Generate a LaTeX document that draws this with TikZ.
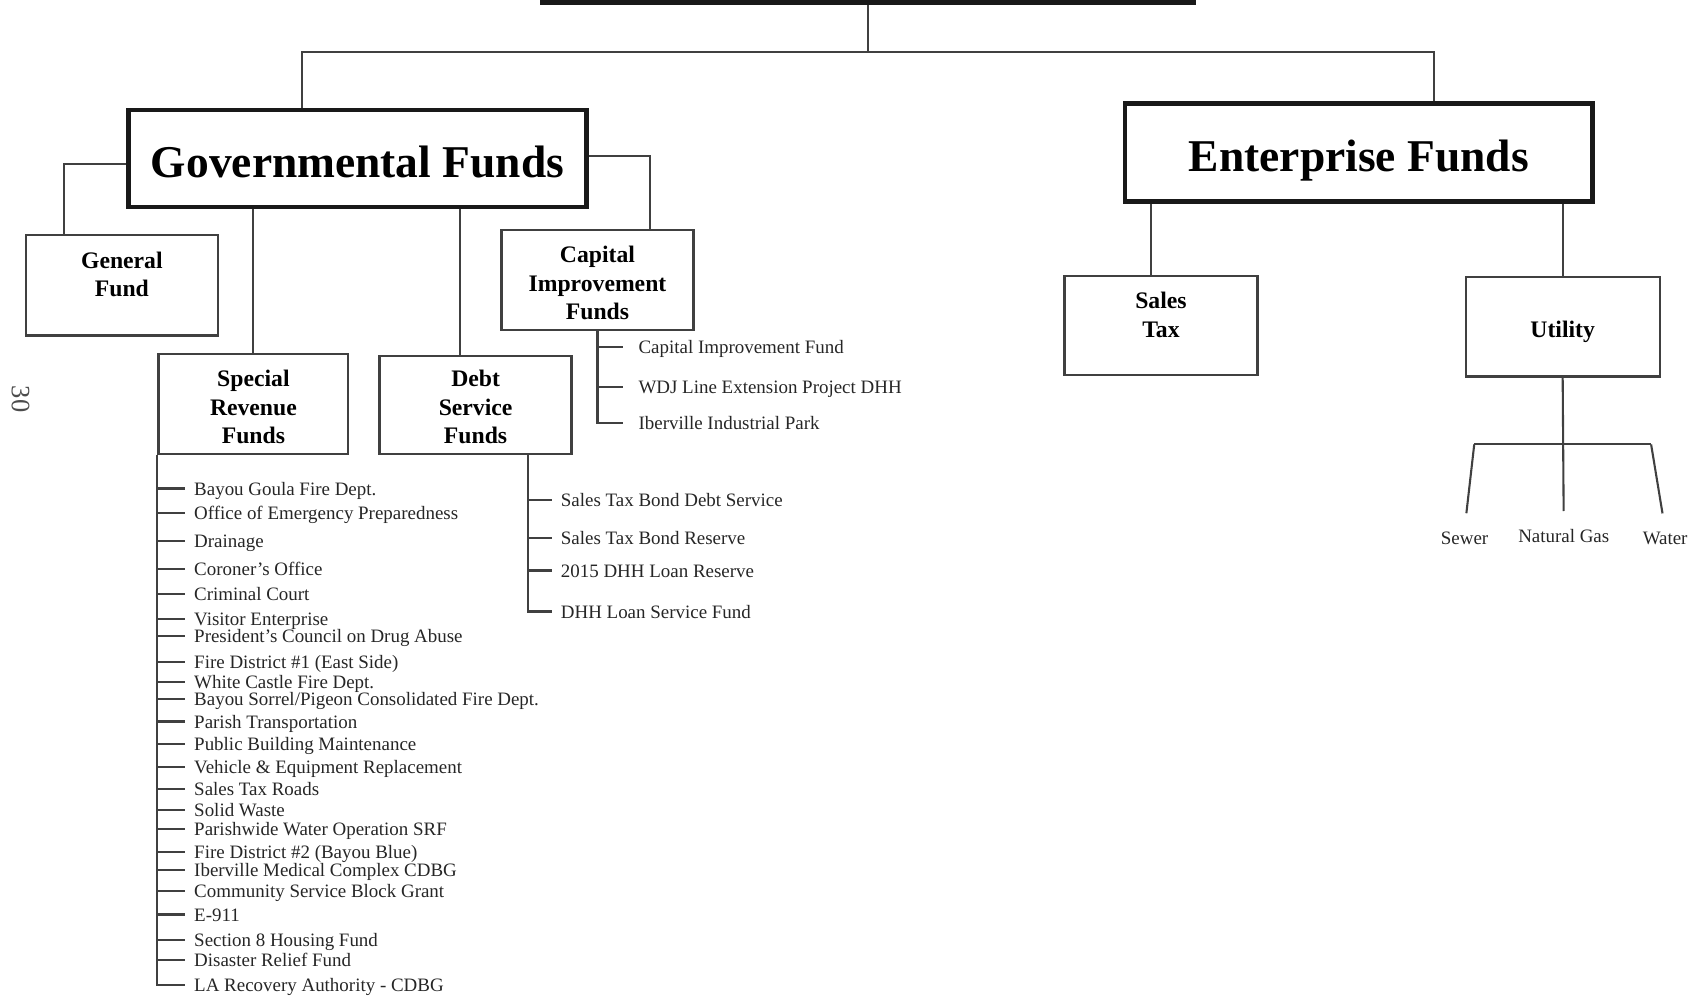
\documentclass[tikz,border=0pt]{standalone}
\usepackage{fontspec}
\setmainfont{Liberation Serif}
\usetikzlibrary{calc}

\tikzset{
  fundbig/.style={draw=black!90, line width=2.5pt, inner sep=0pt, text height=0.71cm, text depth=0pt,
    font=\fontsize{24}{28}\selectfont\bfseries},
  fundbox/.style={draw=black!75, line width=1.2pt, inner sep=0pt, align=center,
    font=\fontsize{12.5}{15}\selectfont\bfseries},
  tri/.style={text height=1.48cm, text depth=0pt},
  item/.style={anchor=west, inner sep=1pt, text=black!85, text height=6.9pt, text depth=0pt,
    font=\fontsize{10}{11}\selectfont},
  link/.style={draw=black!75, line width=1.1pt},
  leaf/.style={link, shorten >=0.12cm},
  leg/.style={link, shorten >=0.3cm},
}

\begin{document}
\begin{tikzpicture}[x=0.02cm, y=-0.02cm]
    \useasboundingbox (0,0) rectangle (1568,925);
    \clip (0,0) rectangle (1568,925);

    % fund boxes
    \node[fundbig, minimum width=12.08cm, minimum height=1.24cm] (root) at (805,-29) {};
    \node[fundbig, minimum width=8.5cm, minimum height=1.8cm, text height=0.70cm] (GF) at (331.5,147) {Governmental Funds};
    \node[fundbig, minimum width=8.68cm, minimum height=1.82cm] (EF) at (1260,141.5) {Enterprise Funds};
    \node[fundbox, minimum width=3.56cm, minimum height=1.86cm, text depth=0.4cm] (gen) at (113,264.5) {General\\Fund};
    \node[fundbox, tri, minimum width=3.56cm, minimum height=1.86cm] (cap) at (554,259.5) {Capital\\Improvement\\Funds};
    \node[fundbox, tri, minimum width=3.52cm, minimum height=1.86cm] (sp) at (235,374.5) {Special\\Revenue\\Funds};
    \node[fundbox, tri, minimum width=3.56cm, minimum height=1.82cm, text height=1.44cm] (debt) at (441,375.5) {Debt\\Service\\Funds};
    \node[fundbox, minimum width=3.58cm, minimum height=1.84cm, text depth=0.4cm] (st) at (1076.5,302) {Sales\\Tax};
    \node[fundbox, minimum width=3.6cm, minimum height=1.84cm, text height=0.4cm, text depth=0pt] (ut) at (1449,303) {Utility};

    \node[rotate=-90, text=black!70, font=\fontsize{14}{16}\selectfont] (page) at (19,370) {30};

    % top level
    \coordinate (busL) at (280,48);
    \coordinate (busR) at (1330,48);
    \draw[link] (root.south) -- (root.south |- busL);
    \draw[link] (GF.north -| busL) -- (busL) -- (busR) -- (EF.north -| busR);

    % governmental branches
    \coordinate (dtop) at ($(debt.north west)!0.42!(debt.north east)$);
    \draw[link] ([yshift=-0.1cm]GF.west) -| ($(gen.north west)!0.2!(gen.north east)$);
    \draw[link] ([yshift=0.04cm]GF.east) -| ($(cap.north west)!0.77!(cap.north east)$);
    \draw[link] (sp.north) -- (sp.north |- GF.south);
    \draw[link] (dtop) -- (dtop |- GF.south);

    % enterprise branches
    \draw[link] ($(st.north west)!0.45!(st.north east)$) coordinate (stop) -- (stop |- EF.south);
    \draw[link] (ut.north) -- (ut.north |- EF.south);

    % capital improvement list
    \foreach \y/\t [count=\i] in {322/Capital Improvement Fund, 359/WDJ Line Extension Project DHH, 392/Iberville Industrial Park}
        \node[item] (ci\i) at (590,\y) {\t};
    \draw[leaf, shorten >=0.24cm] (cap.south) |- (ci3.west);
    \foreach \i in {1,2}
        \draw[leaf, shorten >=0.24cm] (ci\i.west -| cap.south) -- (ci\i.west);

    % debt service list
    \foreach \y/\t [count=\i] in {464/Sales Tax Bond Debt Service, 499/Sales Tax Bond Reserve, 529/2015 DHH Loan Reserve, 567/DHH Loan Service Fund}
        \node[item] (ds\i) at (518,\y) {\t};
    \coordinate (dbot) at ($(debt.south west)!0.77!(debt.south east)$);
    \draw[leaf] (dbot) |- (ds4.west);
    \foreach \i in {1,2,3}
        \draw[leaf] (ds\i.west -| dbot) -- (ds\i.west);

    % special revenue list
    \foreach \y/\t [count=\i] in {453/Bayou Goula Fire Dept., 476/Office of Emergency Preparedness,
        502/Drainage, 528/Coroner's Office, 551/Criminal Court, 574/Visitor Enterprise,
        590/President's Council on Drug Abuse, 614/Fire District \#1 (East Side),
        632/White Castle Fire Dept., 648/{Bayou Sorrel/Pigeon Consolidated Fire Dept.},
        669/Parish Transportation, 690/Public Building Maintenance,
        711/Vehicle \& Equipment Replacement, 732/Sales Tax Roads, 751/Solid Waste,
        769/Parishwide Water Operation SRF, 790/Fire District \#2 (Bayou Blue),
        807/Iberville Medical Complex CDBG, 826/Community Service Block Grant, 848/E-911,
        872/Section 8 Housing Fund, 890/Disaster Relief Fund, 913/LA Recovery Authority - CDBG}
        \node[item] (sr\i) at (178,\y) {\t};
    \draw[leaf] (sp.south west) |- (sr23.west);
    \foreach \i in {1,...,22}
        \draw[leaf] (sr\i.west -| sp.south west) -- (sr\i.west);

    % utility split
    \node[item, anchor=center] (sew) at (1358,499) {Sewer};
    \node[item, anchor=center] (gas) at (1450,497) {Natural Gas};
    \node[item, anchor=center] (wat) at (1544,499) {Water};
    \coordinate (ubar) at ($(ut.south)+(0,62)$);
    \draw[leg] (ut.south) -- (gas.north);
    \draw[link] ($(ubar)+(-82,0)$) -- ($(ubar)+(82,0)$);
    \draw[leg] ($(ubar)+(-82,0)$) -- (sew.north);
    \draw[leg] ($(ubar)+(82,0)$) -- (wat.north);
\end{tikzpicture}
\end{document}
